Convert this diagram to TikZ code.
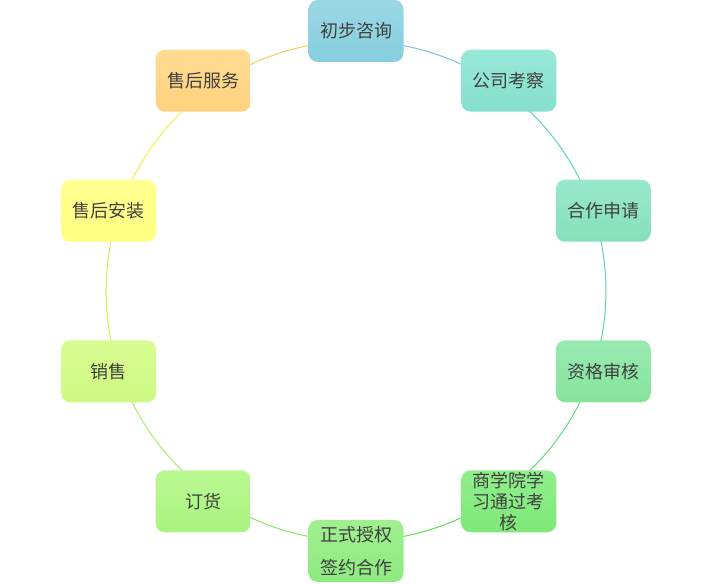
\documentclass[tikz,border=0pt]{standalone}
\usepackage{fontspec}
\setmainfont{Noto Sans CJK SC}
\usetikzlibrary{positioning,backgrounds,calc}
\definecolor{txtgray}{HTML}{404040}
\tikzset{
  stage/.style={draw=none,rounded corners=7pt,minimum width=71.25pt,minimum height=46.5pt,
    align=center,text=txtgray,font=\fontsize{13.5}{15.75}\selectfont,inner sep=2pt},
  ring/.style={line width=0.75pt,bend left=18,looseness=0.87}
}

\begin{document}
\begin{tikzpicture}[x=0.75pt,y=-0.75pt]
  \useasboundingbox (0,0) rectangle (713,584);
  \coordinate (hub) at (356,291);
  % stations round the ring
  \node[stage,top color={rgb,255:red,156;green,215;blue,229},bottom color={rgb,255:red,134;green,206;blue,222}] (ask) at (356,31) {初步咨询};
  \node[stage,top color={rgb,255:red,152;green,232;blue,216},bottom color={rgb,255:red,134;green,224;blue,204}] (visit) at (508.8,80.7) {公司考察};
  \node[stage,top color={rgb,255:red,152;green,232;blue,204},bottom color={rgb,255:red,134;green,224;blue,188}] (apply) at (603.3,210.7) {合作申请};
  \node[stage,top color={rgb,255:red,152;green,234;blue,178},bottom color={rgb,255:red,134;green,228;blue,156}] (check) at (603.3,371.3) {资格审核};
  \node[stage,inner ysep=0pt,top color={rgb,255:red,144;green,238;blue,140},bottom color={rgb,255:red,126;green,232;blue,120}] (school) at (508.8,501.3) {商学院学\\习通过考\\核};
  \node[stage,top color={rgb,255:red,160;green,240;blue,144},bottom color={rgb,255:red,142;green,234;blue,128}] (sign) at (356,551) {正式授权\\[9pt]签约合作};
  \node[stage,top color={rgb,255:red,186;green,248;blue,146},bottom color={rgb,255:red,168;green,244;blue,128}] (order) at (203.2,501.3) {订货};
  \node[stage,top color={rgb,255:red,218;green,252;blue,146},bottom color={rgb,255:red,204;green,250;blue,132}] (sell) at (108.7,371.3) {销售};
  \node[stage,top color={rgb,255:red,255;green,255;blue,146},bottom color={rgb,255:red,255;green,255;blue,128}] (setup) at (108.7,210.7) {售后安装};
  \node[stage,top color={rgb,255:red,255;green,220;blue,146},bottom color={rgb,255:red,255;green,210;blue,126}] (service) at (203.2,80.7) {售后服务};
  % ring segments, pulled in a little towards the hub
  \begin{scope}[on background layer]
    \draw[ring,draw={rgb,255:red,128;green,192;blue,208}] ($(ask)!0.0385!(hub)$) to ($(visit)!0.0385!(hub)$);
    \draw[ring,draw={rgb,255:red,96;green,208;blue,192}] ($(visit)!0.0385!(hub)$) to ($(apply)!0.0385!(hub)$);
    \draw[ring,draw={rgb,255:red,96;green,208;blue,168}] ($(apply)!0.0385!(hub)$) to ($(check)!0.0385!(hub)$);
    \draw[ring,draw={rgb,255:red,96;green,216;blue,136}] ($(check)!0.0385!(hub)$) to ($(school)!0.0385!(hub)$);
    \draw[ring,draw={rgb,255:red,96;green,224;blue,80}] ($(school)!0.0385!(hub)$) to ($(sign)!0.0385!(hub)$);
    \draw[ring,draw={rgb,255:red,136;green,232;blue,96}] ($(sign)!0.0385!(hub)$) to ($(order)!0.0385!(hub)$);
    \draw[ring,draw={rgb,255:red,176;green,232;blue,112}] ($(order)!0.0385!(hub)$) to ($(sell)!0.0385!(hub)$);
    \draw[ring,draw={rgb,255:red,216;green,238;blue,80}] ($(sell)!0.0385!(hub)$) to ($(setup)!0.0385!(hub)$);
    \draw[ring,draw={rgb,255:red,240;green,240;blue,80}] ($(setup)!0.0385!(hub)$) to ($(service)!0.0385!(hub)$);
    \draw[ring,draw={rgb,255:red,242;green,208;blue,96}] ($(service)!0.0385!(hub)$) to ($(ask)!0.0385!(hub)$);
  \end{scope}
\end{tikzpicture}
\end{document}
